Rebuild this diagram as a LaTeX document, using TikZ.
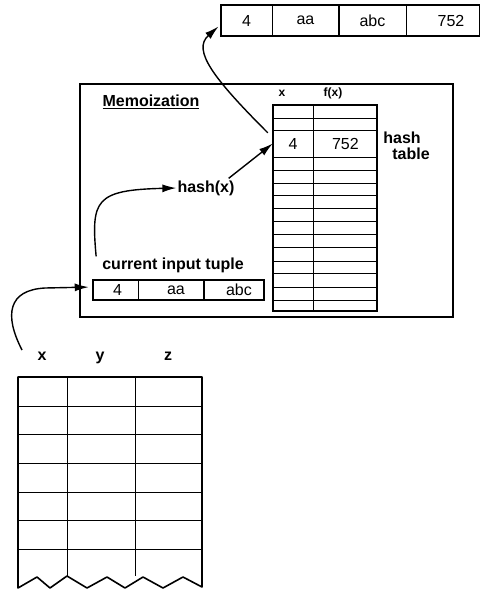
\documentclass[tikz,border=0pt]{standalone}
\usepackage{fontspec}
\setmainfont{Liberation Sans}
\usetikzlibrary{positioning, arrows.meta}
\newcommand{\valfont}{\fontsize{16}{18}\selectfont}
\newcommand{\lblfont}{\bfseries\fontsize{16}{18}\selectfont}
\newcommand{\hdrfont}{\bfseries\fontsize{12}{14}\selectfont}

\begin{document}
\begin{tikzpicture}[
  x=1pt, y=-1pt,
  frame/.style={line width=1.6pt},
  grid/.style={line width=0.5pt},
  tcell/.style={draw, line width=0.5pt, inner sep=0pt, minimum height=31pt, font=\valfont},
  ccell/.style={draw, line width=0.5pt, inner sep=0pt, minimum height=20pt, font=\valfont},
  hcell/.style={inner sep=0pt, minimum height=27pt, font=\valfont},
  lbl/.style={font=\lblfont, inner sep=1pt},
  hdr/.style={font=\hdrfont, inner sep=1pt, anchor=base},
  arr/.style={-{Latex[length=14pt,width=8pt]}, line width=1.4pt},
]
  \useasboundingbox (0,0) rectangle (480,590);

  % stored result tuple
  \node[tcell, minimum width=51pt] (t1) at (246.5,20.5) {4};
  \node[tcell, minimum width=66pt, right=0pt of t1] (t2) {aa};
  \node[tcell, minimum width=67pt, right=0pt of t2] (t3) {abc};
  \node[tcell, minimum width=73pt, right=0pt of t3] (t4) {\hspace{16pt}752};
  \draw[frame] (t1.north west) rectangle (t4.south east);

  % memoization box
  \draw[frame] (80,84) rectangle (453,317);
  \node[lbl] (memo) at (151,102) {\underline{Memoization}};

  % hash table
  \draw[frame] (273,105) rectangle (377,311);
  \draw[grid] (313,105) -- (313,311);
  \foreach \y in {118,130,157,170,183,195,208,221,234,247,261,273,287,300}
    \draw[grid] (273,\y) -- (377,\y);
  \node[hcell, minimum width=40pt] (hk) at (293,143.5) {4};
  \node[hcell, minimum width=64pt, right=0pt of hk] (hv) {752};
  \node[hdr] (hx) at (282,96) {x};
  \node[hdr] (hf) at (333,96) {f(x)};
  \node[lbl] (hname) at (402,138) {hash};
  \node[lbl] (htable) at (411,154) {table};

  \node[lbl] (hashx) at (206,188) {hash(x)};
  \node[lbl] (cur) at (173,265) {current input tuple};

  % current input tuple
  \node[ccell, minimum width=45pt] (c1) at (115.5,290) {\hspace{4pt}4};
  \node[ccell, minimum width=65pt, right=0pt of c1] (c2) {\hspace{10pt}aa};
  \node[ccell, minimum width=60pt, right=0pt of c2] (c3) {\hspace{10pt}abc};
  \draw[frame] (c1.north west) rectangle (c3.south east);

  % input relation
  \node[lbl, anchor=base] (rx) at (42,360) {x};
  \node[lbl, anchor=base] (ry) at (100,360) {y};
  \node[lbl, anchor=base] (rz) at (168,360) {z};
  \foreach \y in {406,434,463,492,520,549}
    \draw[grid] (18,\y) -- (202,\y);
  \foreach \x in {67,135}
    \draw[grid] (\x,377) -- (\x,576);
  \draw[frame, line join=round] (18,377) -- (18,588) -- (37,577) -- (50,588)
    -- (67,576) -- (87,588) -- (107,577) -- (125,588) -- (143,577) -- (163,588)
    -- (183,577) -- (202,587) -- (202,377) -- cycle;
  \coordinate (src) at (22,350);

  \draw[arr, shorten >=4pt] (src) .. controls (4,315) and (8,290) .. (45,288) -- ([yshift=3pt]c1.west);
  \draw[arr] ([xshift=-5pt]cur.north west) .. controls (91,200) and (95,190) .. (hashx.west);
  \draw[arr] ([xshift=-7pt,yshift=1pt]hashx.north east) -- (hk.west);
  \draw[arr, shorten >=3pt] ([xshift=-5pt,yshift=-3pt]hk.north west) .. controls (213,78) and (192,50) .. ([yshift=-4pt]t1.west);
\end{tikzpicture}
\end{document}
